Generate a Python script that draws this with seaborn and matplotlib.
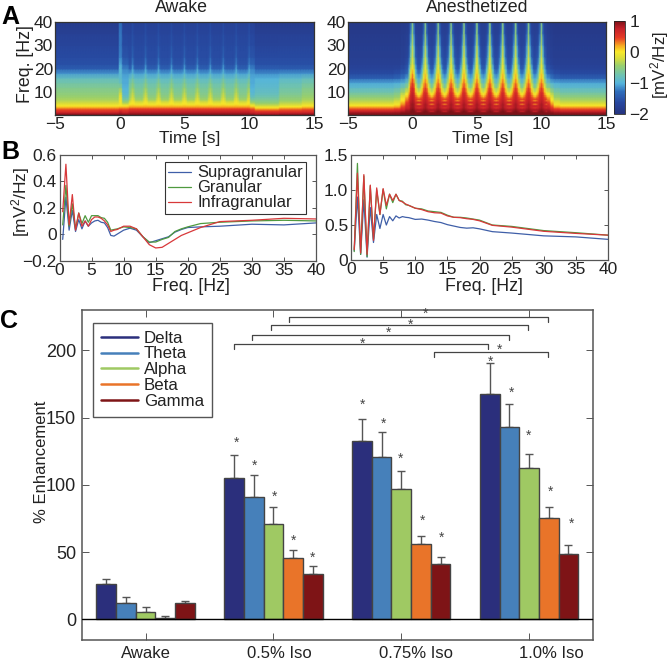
import numpy as np
import pandas as pd
import matplotlib
matplotlib.use("Agg")
import matplotlib.pyplot as plt
from matplotlib.colors import LinearSegmentedColormap
from matplotlib.lines import Line2D
import seaborn as sns

# ---------- Panel A: spectral profiles (log power) read per frequency ----------
spec_freq = [0.5, 1, 1.5, 2, 2.5, 3, 3.5, 4, 4.5, 5, 5.5, 6, 6.5, 7, 8, 9, 10, 12, 14, 16, 18, 20, 22, 25, 30, 35, 40]

awake_profiles = {
    "a": [1, .85, .7, .55, .45, .35, .22, .08, -.03, -.12, -.2, -.27, -.32, -.36, -.42, -.48, -.52, -.6, -.7, -.82, -1.1, -1.42, -1.55, -1.6, -1.68, -1.75, -1.85],
    "b": [1, .9, .8, .7, .58, .45, .32, .2, .08, -.05, -.12, -.22, -.32, -.4, -.5, -.56, -.6, -.67, -.76, -.88, -1.08, -1.38, -1.52, -1.58, -1.62, -1.68, -1.75],
    "n": [1, .9, .8, .7, .58, .45, .32, .2, .09, .02, -.03, -.1, -.17, -.23, -.33, -.38, -.44, -.56, -.68, -.84, -1.05, -1.32, -1.48, -1.56, -1.6, -1.66, -1.75],
    "p": [1, .9, .8, .7, .58, .45, .32, .2, .1, .03, 0, -.03, -.07, -.12, -.2, -.25, -.3, -.45, -.55, -.7, -.9, -1.05, -1.2, -1.35, -1.5, -1.56, -1.62],
    "P": [1, .9, .8, .7, .55, .4, .25, .1, 0, -.03, -.05, -.05, -.05, -.08, -.12, -.2, -.3, -.55, -.8, -.9, -.95, -.95, -1.05, -1.2, -1.25, -1.25, -1.3],
    "D": [1, .85, .7, .6, .5, .38, .25, .1, -.05, -.2, -.35, -.45, -.55, -.65, -.8, -.9, -.95, -1, -1.05, -1.05, -1.1, -1.2, -1.35, -1.5, -1.6, -1.65, -1.75],
    "q": [.95, .8, .65, .5, .35, .2, .05, -.1, -.25, -.35, -.45, -.52, -.58, -.62, -.72, -.8, -.85, -.9, -.95, -1, -1.15, -1.4, -1.55, -1.6, -1.7, -1.75, -1.85],
    "r": [.98, .83, .68, .53, .42, .3, .15, 0, -.12, -.22, -.3, -.36, -.42, -.46, -.53, -.6, -.65, -.72, -.8, -.9, -1.12, -1.42, -1.55, -1.6, -1.68, -1.75, -1.85],
}
awake_columns = "a" * 40 + "P" + "PDDDDbn" + "p" + "nbbbbbnp" * 9 + "DDD" + "q" * 15 + "r" * 14 + "a" * 8

anes_profiles = {
    "a": [1, .95, .85, .7, .55, .4, .28, .15, 0, -.1, -.2, -.27, -.33, -.38, -.5, -.6, -.7, -.9, -1.05, -1.4, -1.6, -1.7, -1.75, -1.8, -1.82, -1.85, -1.9],
    "3": [1, .95, .88, .75, .6, .45, .32, .2, .08, -.02, -.1, -.17, -.23, -.3, -.42, -.52, -.62, -.85, -1.02, -1.35, -1.55, -1.68, -1.75, -1.8, -1.82, -1.85, -1.9],
    "2": [1, 1, .92, .82, .7, .6, .5, .42, .35, .25, .18, .1, .05, 0, -.12, -.25, -.4, -.7, -.95, -1.25, -1.45, -1.6, -1.7, -1.75, -1.8, -1.82, -1.88],
    "1": [1, 1, .95, .9, .85, .78, .72, .68, .62, .55, .48, .42, .35, .3, .15, 0, -.15, -.5, -.8, -1.1, -1.35, -1.5, -1.6, -1.7, -1.75, -1.8, -1.85],
    "t": [1, 1, .95, .7, .85, .75, .55, .7, .7, .25, .6, .65, .2, .45, .2, 0, -.15, -.55, -.85, -1.05, -1.25, -1.45, -1.55, -1.6, -1.7, -1.75, -1.8],
    "x": [1, 1, .95, .75, .85, .78, .6, .72, .72, .35, .65, .68, .3, .5, .3, .12, -.02, -.35, -.65, -.9, -1.15, -1.35, -1.5, -1.55, -1.65, -1.72, -1.78],
    "y": [1, 1, .95, .9, .85, .8, .72, .7, .7, .62, .66, .62, .52, .52, .42, .32, .2, -.05, -.3, -.55, -.75, -.95, -1.15, -1.35, -1.55, -1.65, -1.75],
    "z": [1, 1, 1, .95, .9, .85, .8, .78, .8, .78, .75, .72, .7, .68, .6, .55, .5, .3, .15, -.05, -.22, -.4, -.55, -.8, -1.1, -1.35, -1.5],
    "p": [1, 1, 1, 1, .95, .9, .88, .85, .85, .85, .82, .8, .78, .75, .72, .68, .62, .48, .35, .2, .1, 0, -.1, -.2, -.35, -.5, -.6],
    "O": [1, 1, 1, .98, .95, .9, .88, .85, .85, .85, .82, .8, .78, .75, .72, .68, .62, .45, .3, .12, -.05, -.22, -.4, -.65, -.95, -1.2, -1.35],
    "o": [1, 1, 1, 1, 1, .95, .92, .9, .9, .9, .88, .85, .85, .82, .8, .78, .75, .65, .55, .4, .25, .05, -.1, -.2, -.3, -.45, -.6],
}
anes_columns = "a" * 29 + "3333" + "222" + "11" + "yO" + "o" + "Oyxtxyzp" + "zyxtxyzp" * 9 + "zyx11223333" + "a" * 29

# ---------- Panel B ----------
psd_freq = [0.5, 1, 1.5, 2, 2.5, 3, 3.5, 4, 4.5, 5, 5.5, 6, 6.5, 7, 7.5, 8, 8.5, 9, 10, 11, 12, 13, 14, 15, 16, 17, 18, 19, 20, 22, 25, 30, 35, 40]
awake_supra = [-.04, .28, .03, .18, .02, .11, .04, .1, .06, .085, .1, .105, .09, .085, .05, -.01, -.015, 0, .03, .045, .03, -.02, -.065, -.05, -.035, -.02, .015, .035, .05, .055, .06, .075, .07, .085]
awake_gran = [.07, .37, .06, .23, .04, .16, .08, .14, .09, .14, .14, .14, .125, .12, .09, .03, .035, .04, .055, .05, .04, -.02, -.06, -.06, -.04, -.025, .02, .04, .055, .08, .09, .1, .105, .1]
awake_infra = [.17, .53, .07, .3, .03, .16, .06, .1, .06, .11, .13, .13, .12, .1, .07, .02, .03, .035, .06, .06, .04, -.02, -.08, -.105, -.1, -.07, -.04, -.01, .01, .05, .095, .105, .12, .115]
anes_supra = [.13, .9, .08, .86, .04, .75, .25, .65, .45, .65, .5, .62, .56, .63, .6, .62, .61, .605, .58, .585, .57, .55, .535, .505, .485, .465, .455, .46, .445, .405, .385, .345, .33, .295]
anes_gran = [.12, 1.38, .08, 1.2, .05, 1.06, .3, 1.0, .65, 1.01, .73, .94, .82, .94, .85, .84, .79, .78, .74, .73, .7, .69, .68, .64, .61, .61, .6, .585, .57, .5, .48, .42, .39, .355]
anes_infra = [.15, 1.24, .1, 1.22, .08, 1.07, .28, 1.03, .65, 1.02, .78, .94, .85, .94, .85, .83, .8, .78, .74, .72, .69, .675, .67, .63, .61, .605, .59, .58, .56, .495, .47, .41, .38, .355]
layer_names = ["Supragranular", "Granular", "Infragranular"]

# ---------- Panel C ----------
conditions = ["Awake", "0.5% Iso", "0.75% Iso", "1.0% Iso"]
bands = ["Delta", "Theta", "Alpha", "Beta", "Gamma"]
band_colors = ["#2b2f7c", "#4680ba", "#9fc963", "#e97429", "#7e1416"]
delta = [26.5, 105.3, 132.3, 167.3]
theta = [12.4, 91, 121, 143]
alpha = [5.7, 70.6, 97, 112.8]
beta = [1, 45.8, 55.8, 75.6]
gamma = [11.9, 33.5, 41, 48.3]
delta_top = [30.2, 122, 149.2, 190.3]
theta_top = [16.4, 107.5, 139.5, 160.3]
alpha_top = [8.9, 83.5, 110, 122.7]
beta_top = [2.5, 51.3, 61.7, 83.8]
gamma_top = [13.4, 40, 46.6, 55.3]
star_heights = [[None, 133, 161, 192.8], [None, 115.5, 147, 170], [None, 93, 120.7, 137.8], [None, 60, 74.8, 96.2], [None, 47.6, 62.5, 72.6]]
bracket_left = [.692, .836, .981, 1.125, 2.255]
bracket_right = [2.682, 2.844, 2.989, 3.151, 3.151]
bracket_height = [204.9, 211.4, 218.6, 225, 198.5]
bracket_star_x = [1.70, 1.903, 2.075, 2.19, 2.766]
bracket_star_y = [206.7, 214.9, 220.3, 228.6, 201.7]

# ---------- Style ----------
sns.set_theme(style="ticks")
plt.rcParams["font.family"] = ["Liberation Sans", "DejaVu Sans"]
plt.rcParams["mathtext.default"] = "regular"
plt.rcParams["font.size"] = 12
FW, FH = 670, 660
fig = plt.figure(figsize=(FW / 100, FH / 100), dpi=100)
ink = "#222222"


def add_ax(x0, y0, x1, y1):
    return fig.add_axes([x0 / FW, 1 - y1 / FH, (x1 - x0) / FW, (y1 - y0) / FH])


def frame(ax, color="#333333", lw=0.9, ticklen=3, pad=2, size=12.5):
    for s in ax.spines.values():
        s.set_color(color)
        s.set_linewidth(lw)
        s.set_visible(True)
    ax.tick_params(direction="in", top=True, right=True, length=ticklen, width=0.7,
                   color=color, labelsize=size, labelcolor=ink, pad=pad)


def label_at(px, py, text, rotation=0, size=12.5, weight="normal"):
    fig.text(px / FW, 1 - py / FH, text, rotation=rotation, ha="center", va="center",
             fontsize=size, fontweight=weight, color=ink if weight == "normal" else "black")


cmap = LinearSegmentedColormap.from_list("muted_jet", [
    (0.0, "#26347f"), (0.12, "#27479f"), (0.24, "#2f6dbb"), (0.33, "#55b4dc"), (0.42, "#6fc3b0"),
    (0.52, "#98cf6f"), (0.60, "#d9dd3c"), (0.67, "#f9e92a"), (0.74, "#f6a420"), (0.82, "#e63b26"),
    (0.92, "#c4202a"), (1.0, "#7c1218")])

# ---------- Panel A ----------
mesh = None
for (x0, x1), profiles, columns in [((55, 314), awake_profiles, awake_columns),
                                    ((348, 606), anes_profiles, anes_columns)]:
    ax = add_ax(x0, 22, x1, 114.5)
    grid = np.array([profiles[c] for c in columns]).T
    times = np.linspace(-5, 15, len(columns))
    mesh = ax.pcolormesh(times, spec_freq, grid, cmap=cmap, vmin=-2, vmax=1, shading="gouraud", rasterized=True)
    ax.set_xlim(-5, 15)
    ax.set_ylim(0.5, 40)
    ax.set_xticks([-5, 0, 5, 10, 15], ["\u22125", "0", "5", "10", "15"])
    ax.set_yticks([10, 20, 30, 40])
    frame(ax, pad=1.5)
    ax.tick_params(axis="x", pad=1.5)

cax = add_ax(614, 21, 625, 114)
cb = fig.colorbar(mesh, cax=cax, ticks=[-2, -1, 0, 1])
cb.outline.set_linewidth(0.6)
cax.set_yticklabels(["\u22122", "\u22121", "0", "1"])
cax.tick_params(length=0, labelsize=12.5, labelcolor=ink, pad=3)

label_at(181, 7, "Awake", size=12.8)
label_at(477, 7, "Anesthetized", size=12.8)
label_at(26, 64, "Freq. [Hz]", rotation=90, size=12.8)
label_at(190, 139, "Time [s]")
label_at(483, 139, "Time [s]")
label_at(660, 65, "[mV$^2$/Hz]", rotation=90, size=12.2)

# ---------- Panel B ----------
line_colors = ["#3f5fa8", "#4f9a3f", "#d8383a"]
ax_l = add_ax(59.5, 155, 316, 260.5)
ax_r = add_ax(351, 155, 608, 260)
for ax, series in [(ax_l, [awake_supra, awake_gran, awake_infra]), (ax_r, [anes_supra, anes_gran, anes_infra])]:
    for vals, col, name in zip(series, line_colors, layer_names):
        sns.lineplot(x=psd_freq, y=vals, ax=ax, color=col, linewidth=0.9, errorbar=None, label=name, legend=False)
    ax.set_xlim(0, 40)
    ax.set_xticks(range(0, 41, 5))
    frame(ax, color="#555555", pad=2)
    ax.tick_params(axis="x", pad=1.5)
ax_l.set_ylim(-0.2, 0.6)
ax_l.set_yticks([-0.2, 0, 0.2, 0.4, 0.6], ["\u22120.2", "0", "0.2", "0.4", "0.6"])
ax_r.set_ylim(0, 1.5)
ax_r.set_yticks([0, 0.5, 1.0, 1.5], ["0", "0.5", "1.0", "1.5"])
handles = [Line2D([], [], color=c, lw=0.9) for c in line_colors]
leg = ax_l.legend(handles, layer_names, loc="upper left", bbox_to_anchor=(165 / FW, 1 - 162 / FH),
                  bbox_transform=fig.transFigure, fontsize=11.9, frameon=True, fancybox=False, framealpha=1,
                  edgecolor="#333333", handlelength=1.4, handletextpad=0.35, labelspacing=0.0,
                  borderpad=0.2, borderaxespad=0)
leg.get_frame().set_linewidth(0.8)
for t in leg.get_texts():
    t.set_color(ink)
label_at(191, 286.5, "Freq. [Hz]", size=12.8)
label_at(484, 286.5, "Freq. [Hz]", size=12.8)
label_at(21, 202, "[mV$^2$/Hz]", rotation=90, size=12.5)

# ---------- Panel C ----------
ax_c = add_ax(81.7, 310, 593, 640)
values = [delta, theta, alpha, beta, gamma]
tops = [delta_top, theta_top, alpha_top, beta_top, gamma_top]
df = pd.DataFrame({
    "condition": [c for _ in bands for c in conditions],
    "band": [b for b in bands for _ in conditions],
    "value": [v for series in values for v in series],
})
sns.barplot(data=df, x="condition", y="value", hue="band", order=conditions, hue_order=bands,
            palette=band_colors, saturation=1, width=0.77, gap=0, errorbar=None, edgecolor="#444444",
            linewidth=1.0, ax=ax_c, legend=False, zorder=3)
bars = list(ax_c.containers)
star_nudge = [[0, 2.3, 1, 1], [0, 1, 1.7, 1.7], [0, .7, -.7, -.7], [0, 0, 1.3, 1.3], [0, 0, 1, 3.3]]
for b_i, container in enumerate(bars):
    for c_i, rect in enumerate(container):
        xc = rect.get_x() + rect.get_width() / 2
        ax_c.errorbar(xc, values[b_i][c_i], yerr=[[0], [tops[b_i][c_i] - values[b_i][c_i]]], fmt="none",
                      ecolor="#555555", elinewidth=1.0, capsize=3.2, capthick=1.0, zorder=2)
        h = star_heights[b_i][c_i]
        if h is not None:
            ax_c.annotate("*", (xc, h), xytext=(star_nudge[b_i][c_i] * 0.72, -1.5), textcoords="offset points",
                          ha="center", va="center", fontsize=10, color="#444444")
ax_c.axhline(0, color="black", lw=1.0, zorder=4)
ax_c.set_xlim(-0.5, 3.5)
ax_c.set_ylim(-15.4, 230)
ax_c.set_yticks([0, 50, 100, 150, 200])
ax_c.set_xticks(range(4), [""] * 4)
ax_c.set_xlabel("")
ax_c.set_ylabel("")
frame(ax_c, color="#555555", lw=1.1, ticklen=5, pad=4, size=13)
label_offsets = [0, 6, 15, 22]
for i, name in enumerate(conditions):
    ax_c.annotate(name, (i, -15.4), xytext=(label_offsets[i] * 0.72, -9.5), textcoords="offset points",
                  ha="center", va="center", fontsize=12, color=ink, annotation_clip=False)
for xa, xb, yb, sx, sy in zip(bracket_left, bracket_right, bracket_height, bracket_star_x, bracket_star_y):
    ax_c.plot([xa, xa, xb, xb], [yb - 3.7, yb, yb, yb - 3.7], color="#444444", lw=0.9, zorder=5)
    ax_c.annotate("*", (sx, sy), xytext=(0, -1.5), textcoords="offset points", ha="center", va="center",
                  fontsize=10, color="#444444", zorder=6)
label_at(41, 462, "% Enhancement", rotation=90, size=12)
handles = [Line2D([], [], color=c, lw=1.8) for c in band_colors]
leg = ax_c.legend(handles, bands, loc="upper left", bbox_to_anchor=(93 / FW, 1 - 323 / FH),
                  bbox_transform=fig.transFigure, fontsize=12.2, frameon=True, fancybox=False, framealpha=1,
                  edgecolor="#555555", handlelength=2.2, handletextpad=0.35, labelspacing=0.05,
                  borderpad=0.45, borderaxespad=0)
leg.get_frame().set_linewidth(1.0)
for t in leg.get_texts():
    t.set_color(ink)

label_at(10, 17, "A", size=18, weight="bold")
label_at(10, 152, "B", size=18, weight="bold")
label_at(9, 321, "C", size=18, weight="bold")

fig.savefig("out.png", dpi=100)
